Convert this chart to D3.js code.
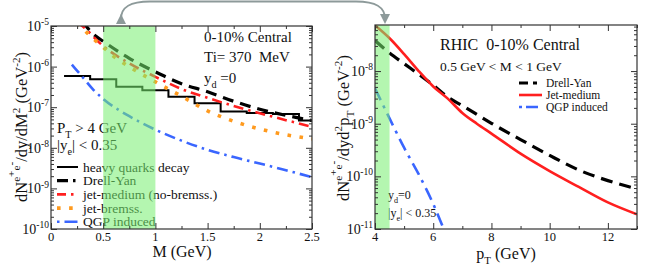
<!DOCTYPE html>
<html>
<head>
<meta charset="utf-8">
<script src="https://cdn.jsdelivr.net/npm/d3@7"></script>
<style>
  body { margin: 0; background: #fff; }
  svg { display: block; }
</style>
</head>
<body>
<div id="chart"></div>
<script>

// ---- left panel: invariant mass spectra (M in GeV) ----
var massM = [0.2, 0.25, 0.3, 0.4, 0.5, 0.6, 0.75, 0.8, 1.0, 1.25, 1.5, 1.75, 2.0, 2.25, 2.5];
var dyMass = [null, null, 1.3e-5, 6.5e-6, 4.2e-6, null, 1.6e-6, null, 7.4e-7, 3.8e-7, 2.4e-7, 1.4e-7, 8.9e-8, 6.3e-8, 4.7e-8];
var jetMedMass = [null, 1.26e-5, 1.0e-5, null, 3.2e-6, null, 1.2e-6, null, 5.6e-7, 2.8e-7, 1.7e-7, 1.07e-7, 7.1e-8, 4.8e-8, 3.3e-8];
var jetBremMass = [null, 1.2e-5, null, 5.0e-6, 3.0e-6, 1.8e-6, null, 8.3e-7, 4.2e-7, 1.86e-7, 8.1e-8, 4.5e-8, 2.9e-8, 2.1e-8, 1.66e-8];
var qgpMass = [1.12e-6, null, 5.6e-7, 2.8e-7, 1.6e-7, null, 6.0e-8, null, 2.8e-8, 1.5e-8, 8.9e-9, 5.9e-9, 4.1e-9, 2.8e-9, 1.9e-9];

// heavy quark decay histogram: bin lower edges and contents
var hqEdges = [0.125, 0.375, 0.625, 0.875, 1.125, 1.375, 1.625, 1.875, 2.125, 2.375, 2.5];
var hqValues = [5.9e-7, 4.9e-7, 3.2e-7, 2.6e-7, 1.8e-7, 1.26e-7, 7.8e-8, 7.2e-8, 6.8e-8, 4.7e-8];

var massTicks = [0, 0.5, 1, 1.5, 2, 2.5];
var massExp = [-10, -9, -8, -7, -6, -5];
var massLegend = ["heavy quarks decay", "Drell-Yan", "jet-medium (no-bremss.)", "jet-bremss.", "QGP induced"];

// ---- right panel: pT spectra, 0.5 < M < 1 GeV ----
var ptVals = [4, 4.5, 5, 5.5, 6, 6.5, 7, 7.5, 8, 9, 10, 11, 12, 13];
var dyPt = [3.8e-8, 2.2e-8, 1.38e-8, 8.7e-9, 5.4e-9, 3.2e-9, 2.2e-9, 1.5e-9, 1.02e-9, 5.0e-10, 2.5e-10, 1.32e-10, 8.3e-11, 5.8e-11];
var jetMedPt = [7.4e-8, 4.2e-8, 2.1e-8, 1.0e-8, 5.1e-9, 3.0e-9, 1.6e-9, 1.0e-9, 6.5e-10, 2.7e-10, 1.26e-10, 6.3e-11, 3.2e-11, 1.9e-11];
var qgpPt = [4.7e-9, 1.26e-9, 3.5e-10, 1.1e-10, 3.0e-11, 6.3e-12];

var ptTicks = [4, 6, 8, 10, 12];
var ptExp = [-11, -10, -9, -8];
var ptLegend = ["Drell-Yan", "Jet-medium", "QGP induced"];

var RED = "#ff1f1f", BLUE = "#3a66ff", ORANGE = "#ff9a1e", BAND = "rgb(119,239,111)";
var FONT = "'Liberation Serif', 'DejaVu Serif', 'Times New Roman', serif";

var svg = d3.select("#chart").append("svg")
    .attr("width", 654)
    .attr("height", 265)
    .attr("font-family", FONT);

// scales (ranges are the plot frames in page pixels)
var xL = d3.scaleLinear().domain([0, 2.5]).range([51, 312]);
var yL = d3.scaleLog().domain([1e-10, 1e-5]).range([229, 26]);
var xR = d3.scaleLinear().domain([4, 13]).range([375, 637]);
var yR = d3.scaleLog().domain([1e-11, 7.5e-8]).range([229, 25]);

// text with sub / superscripts, parts = [[string, kind], ...]
function richText(g, x, y, parts, size, anchor) {
    var t = g.append("text")
        .attr("x", x).attr("y", y)
        .attr("font-family", FONT)
        .attr("font-size", size)
        .attr("text-anchor", anchor || "start")
        .attr("fill", "#111")
        .style("white-space", "pre");
    var cur = 0;
    parts.forEach(function(p) {
        var shift = 0;
        if (p[1] == "sup") shift = -0.42 * size;
        if (p[1] == "sup2") shift = -0.72 * size;
        if (p[1] == "sub") shift = 0.3 * size;
        var ts = t.append("tspan").attr("dy", shift - cur).text(p[0]);
        if (p[1] != "base") ts.attr("font-size", size * 0.68);
        cur = shift;
    });
    return t;
}

function logMinors(y) {
    var d = y.domain(), out = [];
    for (var e = Math.floor(Math.log10(d[0])); e <= Math.ceil(Math.log10(d[1])); e++) {
        for (var k = 2; k <= 9; k++) {
            var v = k * Math.pow(10, e);
            if (v > d[0] && v < d[1]) out.push(v);
        }
    }
    return out;
}

function drawFrame(x, y, xMajor, xMinor, exps) {
    var g = svg.append("g").attr("class", "frame");
    var x0 = x.range()[0], x1 = x.range()[1], y0 = y.range()[1], y1 = y.range()[0];
    var yMajor = exps.map(function(e) { return Math.pow(10, e); });
    var yMinor = logMinors(y);

    function put(axis, tr) {
        var a = g.append("g").attr("transform", tr).call(axis.tickFormat("").tickSizeOuter(0));
        a.select(".domain").remove();
        a.selectAll("text").remove();
        a.selectAll("line").attr("stroke", "#333");
    }
    put(d3.axisBottom(x).tickValues(xMajor).tickSizeInner(-6), "translate(0," + y1 + ")");
    put(d3.axisBottom(x).tickValues(xMinor).tickSizeInner(-3), "translate(0," + y1 + ")");
    put(d3.axisTop(x).tickValues(xMajor).tickSizeInner(-6), "translate(0," + y0 + ")");
    put(d3.axisTop(x).tickValues(xMinor).tickSizeInner(-3), "translate(0," + y0 + ")");
    put(d3.axisLeft(y).tickValues(yMajor).tickSizeInner(-6), "translate(" + x0 + ",0)");
    put(d3.axisLeft(y).tickValues(yMinor).tickSizeInner(-3), "translate(" + x0 + ",0)");
    put(d3.axisRight(y).tickValues(yMajor).tickSizeInner(-6), "translate(" + x1 + ",0)");
    put(d3.axisRight(y).tickValues(yMinor).tickSizeInner(-3), "translate(" + x1 + ",0)");

    g.append("rect")
        .attr("x", x0).attr("y", y0)
        .attr("width", x1 - x0).attr("height", y1 - y0)
        .attr("fill", "none").attr("stroke", "#333").attr("stroke-width", 1.2);

    xMajor.forEach(function(v) {
        richText(g, x(v), y1 + 12, [[d3.format("")(v), "base"]], 12.5, "middle");
    });
    exps.forEach(function(e) {
        richText(g, x0 - 2, y(Math.pow(10, e)) + 5, [["10", "base"], [String(e), "sup"]], 14, "end");
    });
}

function pairs(xs, ys) {
    return d3.zip(xs, ys).filter(function(d) { return d[1] != null; });
}

function addClip(id, x, y) {
    svg.append("clipPath").attr("id", id).append("rect")
        .attr("x", x.range()[0]).attr("y", y.range()[1])
        .attr("width", x.range()[1] - x.range()[0])
        .attr("height", y.range()[0] - y.range()[1]);
}

// ================= LEFT PANEL =================
addClip("clipL", xL, yL);
var left = svg.append("g").attr("clip-path", "url(#clipL)");

var lineL = d3.line()
    .x(function(d) { return xL(d[0]); })
    .y(function(d) { return yL(d[1]); })
    .curve(d3.curveMonotoneX);

var hqPts = hqEdges.map(function(e, i) { return [e, hqValues[Math.min(i, hqValues.length - 1)]]; });
left.append("path")
    .attr("d", d3.line().x(function(d) { return xL(d[0]); }).y(function(d) { return yL(d[1]); })
        .curve(d3.curveStepAfter)(hqPts))
    .attr("fill", "none").attr("stroke", "#000").attr("stroke-width", 2);

var leftSeries = [
    { data: pairs(massM, dyMass), color: "#000", width: 3.2, dash: "11,7" },
    { data: pairs(massM, jetMedMass), color: RED, width: 2.6, dash: "10,5,2.5,5" },
    { data: pairs(massM, jetBremMass), color: ORANGE, width: 3.6, dash: "3.6,8.5" },
    { data: pairs(massM, qgpMass), color: BLUE, width: 2.6, dash: "11,5,2.5,5" }
];
leftSeries.forEach(function(s) {
    left.append("path")
        .attr("d", lineL(s.data))
        .attr("fill", "none")
        .attr("stroke", s.color)
        .attr("stroke-width", s.width)
        .attr("stroke-dasharray", s.dash);
});

// annotations
var ann = svg.append("g");
richText(ann, 204, 42, [["0-10% Central", "base"]], 15);
richText(ann, 204, 62, [["Ti= 370  MeV", "base"]], 15);
richText(ann, 204, 83, [["y", "base"], ["d", "sub"], [" =0", "base"]], 15);
richText(ann, 57, 133, [["P", "base"], ["T", "sub"], [" > 4 GeV", "base"]], 15);
richText(ann, 57, 150, [["|y", "base"], ["e", "sub"], ["| < 0.35", "base"]], 15);

// legend
var legStyles = [
    { color: "#000", width: 2, dash: null },
    { color: "#000", width: 3.2, dash: "11,5,2.5,20" },
    { color: RED, width: 2.6, dash: "9,5,2.5,20" },
    { color: ORANGE, width: 3.6, dash: "3.6,8.5" },
    { color: BLUE, width: 2.6, dash: "2.5,5,13,20" }
];
massLegend.forEach(function(name, i) {
    var cy = 167 + i * 13.7;
    ann.append("line")
        .attr("x1", 57).attr("x2", 78).attr("y1", cy).attr("y2", cy)
        .attr("stroke", legStyles[i].color)
        .attr("stroke-width", legStyles[i].width)
        .attr("stroke-dasharray", legStyles[i].dash);
    richText(ann, 83, cy + 4.5, [[name, "base"]], 13.5);
});

// highlighted mass window (drawn over curves and text)
svg.append("rect")
    .attr("x", xL(0.5)).attr("y", yL.range()[1])
    .attr("width", xL(1.0) - xL(0.5))
    .attr("height", yL.range()[0] - yL.range()[1])
    .attr("fill", BAND).attr("opacity", 0.55);

drawFrame(xL, yL, massTicks, [0.25, 0.75, 1.25, 1.75, 2.25], massExp);

richText(svg, 182, 257, [["M (GeV)", "base"]], 16, "middle");
richText(svg, -127, 27, [["dN", "base"], ["e", "sup"], ["+", "sup2"], ["e", "sup"], ["-", "sup2"],
    ["/dy/dM", "base"], ["2", "sup"], [" (GeV", "base"], ["-2", "sup"], [")", "base"]], 16.5, "middle")
    .attr("transform", "rotate(-90)");

// ================= RIGHT PANEL =================
addClip("clipR", xR, yR);
var right = svg.append("g").attr("clip-path", "url(#clipR)");

var lineR = d3.line()
    .x(function(d) { return xR(d[0]); })
    .y(function(d) { return yR(d[1]); })
    .curve(d3.curveMonotoneX);

var rightSeries = [
    { data: pairs(ptVals, dyPt), color: "#000", width: 3.2, dash: "12,7" },
    { data: pairs(ptVals, jetMedPt), color: RED, width: 2.6, dash: null },
    { data: pairs(ptVals.slice(0, qgpPt.length), qgpPt), color: BLUE, width: 2.6, dash: "13,6,3,6" }
];
rightSeries.forEach(function(s) {
    right.append("path")
        .attr("d", lineR(s.data))
        .attr("fill", "none")
        .attr("stroke", s.color)
        .attr("stroke-width", s.width)
        .attr("stroke-dasharray", s.dash);
});

var annR = svg.append("g");
richText(annR, 440, 50, [["RHIC  0-10% Central", "base"]], 16);
richText(annR, 440, 71, [["0.5 GeV < M < 1 GeV", "base"]], 13.5);
richText(annR, 388, 199, [["y", "base"], ["d", "sub"], ["=0", "base"]], 12);
richText(annR, 388, 217, [["|y", "base"], ["e", "sub"], ["| < 0.35", "base"]], 12);

var legR = [
    { color: "#000", width: 3.2, dash: "9,5,4,20" },
    { color: RED, width: 2.6, dash: null },
    { color: BLUE, width: 2.6, dash: "3,4,12,20" }
];
ptLegend.forEach(function(name, i) {
    var cy = 83 + i * 12;
    annR.append("line")
        .attr("x1", 519).attr("x2", 542).attr("y1", cy).attr("y2", cy)
        .attr("stroke", legR[i].color)
        .attr("stroke-width", legR[i].width)
        .attr("stroke-dasharray", legR[i].dash);
    richText(annR, 546, cy + 3.8, [[name, "base"]], 11.5);
});

svg.append("rect")
    .attr("x", xR(4)).attr("y", yR.range()[1])
    .attr("width", xR(4.5) - xR(4))
    .attr("height", yR.range()[0] - yR.range()[1])
    .attr("fill", BAND).attr("opacity", 0.55);

drawFrame(xR, yR, ptTicks, [5, 7, 9, 11, 13], ptExp);

richText(svg, 506, 259, [["p", "base"], ["T", "sub"], [" (GeV)", "base"]], 16, "middle");
richText(svg, -128, 349, [["dN", "base"], ["e", "sup"], ["+", "sup2"], ["e", "sup"], ["-", "sup2"],
    ["/dyd", "base"], ["2", "sup"], ["p", "base"], ["T", "sub"], [" (GeV", "base"], ["-2", "sup"], [")", "base"]], 16.5, "middle")
    .attr("transform", "rotate(-90)");

// ---- connecting arrow between the two highlighted windows ----
var defs = svg.append("defs");
defs.append("marker")
    .attr("id", "head")
    .attr("viewBox", "0 0 10 10")
    .attr("refX", 5).attr("refY", 5)
    .attr("markerWidth", 5).attr("markerHeight", 5)
    .attr("orient", "auto")
    .append("path").attr("d", "M0,0 L10,5 L0,10 Z").attr("fill", "#8d9a9a");

svg.append("path")
    .attr("d", "M121,19 C121,7 130,1.5 150,1.5 L356,1.5 C376,1.5 385,7 385,19")
    .attr("fill", "none")
    .attr("stroke", "#8d9a9a")
    .attr("stroke-width", 2)
    .attr("marker-start", "url(#head)")
    .attr("marker-end", "url(#head)");

</script>
</body>
</html>
